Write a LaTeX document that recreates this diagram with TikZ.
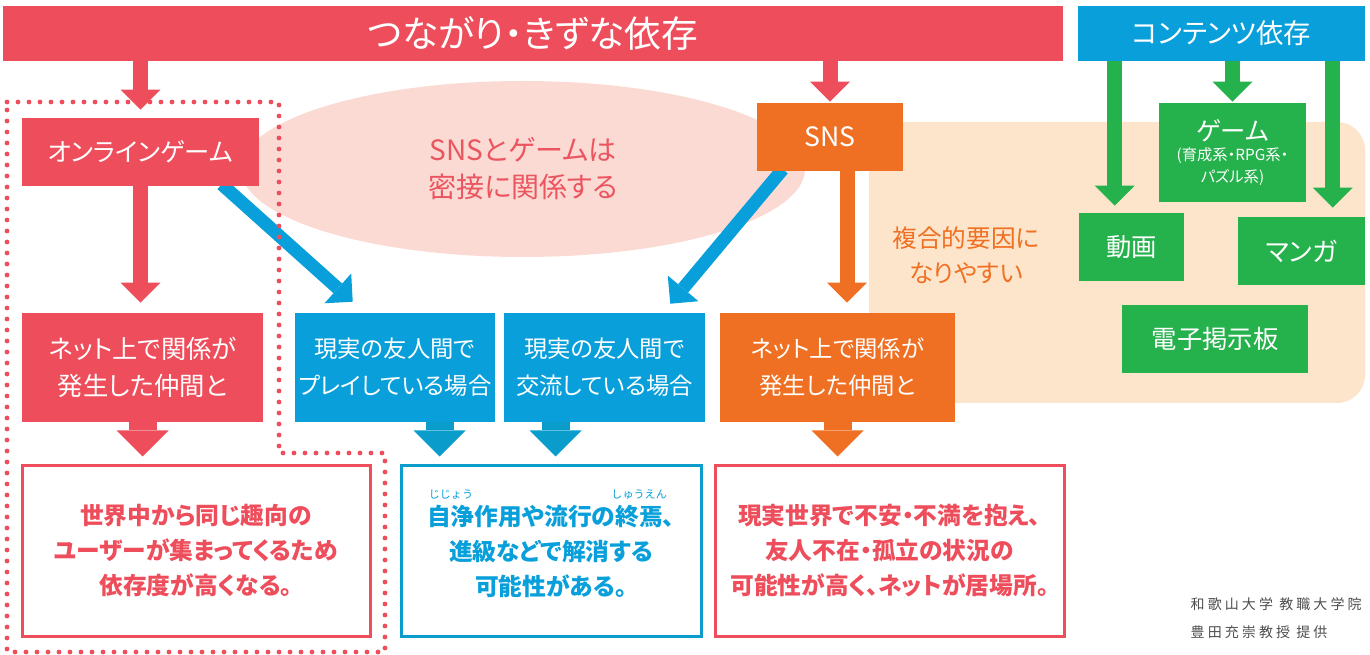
\documentclass[tikz,border=0pt]{standalone}
\usepackage{fontspec}
\setmainfont{Noto Sans CJK JP}[RawFeature=+palt]
\newfontfamily\jpnp{Noto Sans CJK JP}
\newfontfamily\credfont{Noto Sans CJK JP}[LetterSpace=22]
\usetikzlibrary{arrows.meta,calc,shapes.geometric}
\definecolor{cred}{HTML}{EE4E5B}
\definecolor{cblue}{HTML}{089FDA}
\definecolor{cblued}{HTML}{0A9CCB}
\definecolor{corange}{HTML}{F07023}
\definecolor{cgreen}{HTML}{25B14C}
\definecolor{cpeach}{HTML}{FDE5CB}
\definecolor{cpink}{HTML}{FBDAD3}
\definecolor{cpinktext}{HTML}{EB5560}
\definecolor{cgray}{HTML}{4D4D4D}
\pgfdeclarelayer{bg}\pgfdeclarelayer{mid}\pgfsetlayers{bg,mid,main}
\newcommand\rubyjp[2]{\setbox0\hbox{#1}\rlap{\raisebox{1.1em}[0pt][0pt]{\makebox[\wd0]{\jpnp\mdseries\fontsize{8.3}{8.3}\selectfont #2}}}\box0}
\begin{document}
\begin{tikzpicture}[x=0.75pt,y=-0.75pt,
  sz/.style 2 args={minimum width=#1*0.75pt, minimum height=#2*0.75pt},
  box/.style={inner sep=0pt, align=center, text=white},
  redbox/.style={box, fill=cred},
  bluebox/.style={box, fill=cblue},
  orangebox/.style={box, fill=corange},
  greenbox/.style={box, fill=cgreen, font=\fontsize{19}{24}\selectfont},
  redtext/.style={font=\fontsize{19}{27.75}\selectfont},
  midtext/.style={font=\fontsize{17.5}{27.75}\selectfont},
  outbox/.style={inner sep=0pt, align=center, line width=2.25pt, font=\bfseries\fontsize{17.8}{26.25}\selectfont},
  thinarrow/.style={line width=11.25pt, -{Triangle[length=15pt 0 0,width=30pt 0 0,line width=0pt]}},
  fatarrow/.style={line width=21pt, -{Triangle[length=19.5pt 0 0,width=39pt 0 0,line width=0pt]}},
  diagarrow/.style={cblue, line width=9.75pt, -{Triangle[length=15pt 0 0,width=30pt 0 0,line width=0pt]}},
  dotline/.style={cred, line width=3.6pt, line cap=round, dash pattern=on 0pt off 8.25pt}
]
\useasboundingbox (0,0) rectangle (1370,655);

% top bars
\node[redbox, sz={1060}{55}, font=\fontsize{27.5}{30}\selectfont] (bar) at (533,33.5) {つながり・きずな依存};
\node[bluebox, sz={287}{55}, font=\fontsize{20.5}{24}\selectfont] (cbar) at (1221.5,33.5) {コンテンツ依存};

% background shapes
\begin{pgfonlayer}{bg}
\fill[cpeach] (869,122) -- (1337,122) arc[start angle=90,end angle=0,radius=21pt] -- (1365,375) arc[start angle=0,end angle=-90,radius=21pt] -- (869,403) -- cycle;
\node[ellipse, fill=cpink, minimum width=423pt, minimum height=132pt, inner sep=0pt, align=center, text=cpinktext, font=\fontsize{21}{27.75}\selectfont] (ell) at (523,169) {SNSとゲームは\\密接に関係する};
\end{pgfonlayer}

% boxes
\node[redbox, sz={237}{68}, redtext] (onl) at (140.5,152) {オンラインゲーム};
\node[redbox, sz={241}{109}, redtext] (rmid) at (142.5,367.5) {ネット上で関係が\\発生した仲間と};
\node[bluebox, sz={200}{109}, midtext] (play) at (395,367.5) {現実の友人間で\\プレイしている場合};
\node[bluebox, sz={201}{109}, midtext] (talk) at (604.5,367.5) {現実の友人間で\\交流している場合};
\node[orangebox, sz={235}{109}, midtext] (omid) at (837.5,367.5) {ネット上で関係が\\発生した仲間と};
\node[orangebox, sz={146}{68}, font=\fontsize{20}{24}\selectfont] (sns) at (830,137) {SNS};

\node[greenbox, sz={147}{99}, font=\fontsize{11.5}{17}\selectfont] (game) at (1232.5,152.5) {{\fontsize{19}{24}\selectfont ゲーム}\\[-2pt](育成系・RPG系・\\パズル系)};
\node[greenbox, sz={105}{68}] (douga) at (1131.5,247) {動画};
\node[greenbox, sz={127}{68}, font=\fontsize{19.5}{24}\selectfont] (manga) at (1301.5,251) {マンガ};
\node[greenbox, sz={186}{68}] (bbs) at (1215,339) {電子掲示板};

\node[align=center, text=corange, font=\fontsize{18.5}{26.25}\selectfont] (fuku) at (966,255) {複合的要因に\\なりやすい};

% bottom outline boxes
\node[outbox, draw=cred, text=cred, sz={348}{170}] (rout) at (196,551) {世界中から同じ趣向の\\ユーザーが集まってくるため\\依存度が高くなる。};
\node[outbox, draw=cblued, text=cblue, sz={300}{170}] (bout) at (551,551) {\rubyjp{自浄}{じじょう}作用や流行の\rubyjp{終焉}{しゅうえん}、\\進級などで解消する\\可能性がある。};
\node[outbox, draw=cred, text=cred, sz={349}{170}] (oout) at (889.5,551) {現実世界で不安・不満を抱え、\\友人不在・孤立の状況の\\可能性が高く、ネットが居場所。};

\node[anchor=west, align=left, text=cgray, font=\credfont\fontsize{10.5}{21}\selectfont] (credit) at (1186,618) {和歌山大学 教職大学院\\豊田充崇教授 提供};

% diagonal arrows (under boxes)
\coordinate (d1s) at ($(onl.south west)+(200,-2)$);
\coordinate (d1e) at ($(play.north west)+(58,-11)$);
\coordinate (d2s) at ($(sns.south west)+(26,-2)$);
\coordinate (d2e) at ($(talk.north east)+(-35,-9)$);
\begin{pgfonlayer}{mid}
\draw[diagarrow] (d1s) -- (d1e);
\draw[diagarrow] (d2s) -- (d2e);
\end{pgfonlayer}

% vertical arrows
\draw[thinarrow, cred, shorten >=6pt] (onl.north |- bar.south) -- (onl.north);
\draw[thinarrow, cred, shorten >=0.75pt] (sns.north |- bar.south) -- (sns.north);
\draw[thinarrow, cred, shorten >=7.5pt] (onl.south) -- (onl.south |- rmid.north);
\coordinate (s1) at ($(sns.south)+(17,0)$);
\draw[thinarrow, corange, shorten >=7.5pt] (s1) -- (s1 |- omid.north);

\draw[fatarrow, cred, shorten >=6pt] (rmid.south) -- (rmid.south |- rout.north);
\coordinate (b1) at ($(bout.north west)+(40,0)$);
\coordinate (b2) at ($(bout.north west)+(156,0)$);
\draw[fatarrow, cblued, shorten >=6pt] (b1 |- play.south) -- (b1);
\draw[fatarrow, cblued, shorten >=6pt] (b2 |- talk.south) -- (b2);
\draw[fatarrow, corange, shorten >=6pt] (omid.south) -- (omid.south |- oout.north);

% green arrows
\coordinate (g1) at ($(douga.north west)+(36,0)$);
\coordinate (g3) at ($(manga.north west)+(95,0)$);
\draw[thinarrow, cgreen, shorten >=5.25pt] (g1 |- cbar.south) -- (g1);
\draw[thinarrow, cgreen, shorten >=0.75pt] (game.north |- cbar.south) -- (game.north);
\draw[thinarrow, cgreen, shorten >=6.75pt] (g3 |- cbar.south) -- (g3);

% dotted frame
\draw[dotline] (7,102) -- (279,102) -- (279,453) -- (385,453) -- (385,652) -- (7,652) -- cycle;
\end{tikzpicture}
\end{document}
